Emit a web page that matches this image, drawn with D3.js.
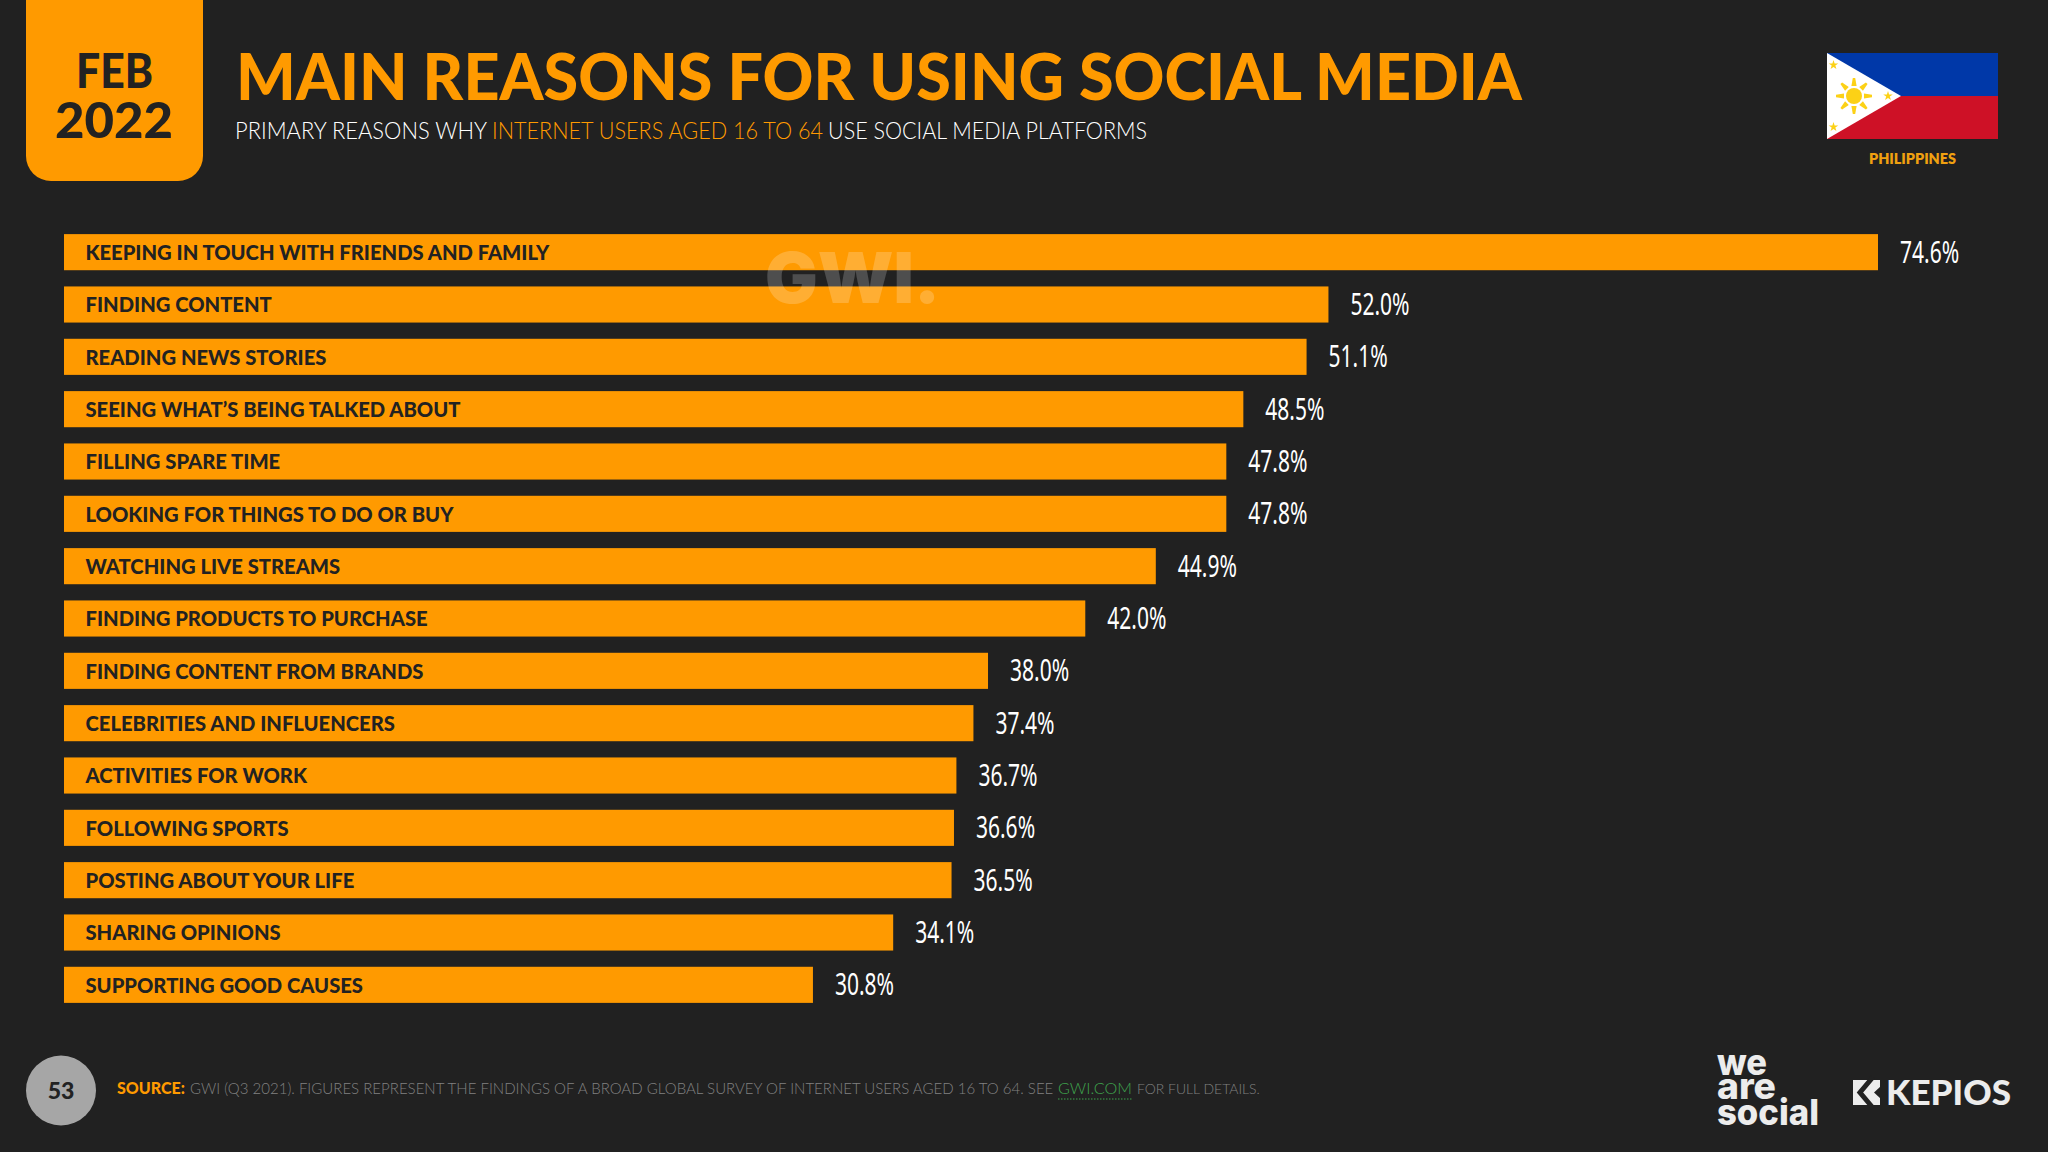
<!DOCTYPE html>
<html>
<head>
<meta charset="utf-8">
<script src="https://cdn.jsdelivr.net/npm/d3@7"></script>
<style>
  html, body { margin: 0; padding: 0; background: #212121; }
  svg { display: block; }
</style>
</head>
<body>
<div id="box"></div>
<script>
const categories = [
  "KEEPING IN TOUCH WITH FRIENDS AND FAMILY", "FINDING CONTENT", "READING NEWS STORIES",
  "SEEING WHAT\u2019S BEING TALKED ABOUT", "FILLING SPARE TIME", "LOOKING FOR THINGS TO DO OR BUY",
  "WATCHING LIVE STREAMS", "FINDING PRODUCTS TO PURCHASE", "FINDING CONTENT FROM BRANDS",
  "CELEBRITIES AND INFLUENCERS", "ACTIVITIES FOR WORK", "FOLLOWING SPORTS",
  "POSTING ABOUT YOUR LIFE", "SHARING OPINIONS", "SUPPORTING GOOD CAUSES"
];
const values = [74.6, 52.0, 51.1, 48.5, 47.8, 47.8, 44.9, 42.0, 38.0, 37.4, 36.7, 36.6, 36.5, 34.1, 30.8];

const W = 2048, H = 1152;
const orange = "#ff9a00", bg = "#212121", dark = "#222222";
const headFont = "Lato, 'Noto Sans', sans-serif";

const svg = d3.select("#box").append("svg").attr("width", W).attr("height", H);
svg.append("rect").attr("width", W).attr("height", H).attr("fill", bg);

// puts a text down and squeezes it to the width measured on the reference
function txt(parent, s, x, y, size, weight, fill, width, family) {
  const t = parent.append("text").attr("x", x).attr("y", y)
    .attr("font-family", family || headFont).attr("font-size", size)
    .attr("font-weight", weight).attr("fill", fill).text(s);
  if (width) t.attr("textLength", width).attr("lengthAdjust", "spacingAndGlyphs");
  return t;
}

// same, but reaches the width through the font size
function fitted(parent, s, x, y, size, weight, fill, width) {
  const t = txt(parent, s, x, y, size, weight, fill);
  t.attr("font-size", size * width / t.node().getComputedTextLength());
  return t;
}

// date badge
svg.append("path").attr("fill", orange)
  .attr("d", "M26,0H203V156a25,25 0 0 1 -25,25H51a25,25 0 0 1 -25,-25Z");
txt(svg, "FEB", 76, 88, 48, 900, dark, 77);
txt(svg, "2022", 55, 138, 50, 900, dark, 118);

// titles
txt(svg, "MAIN REASONS FOR USING SOCIAL MEDIA", 236, 100, 65, 900, orange, 1286);
txt(svg, "PRIMARY REASONS WHY", 235, 139, 23.5, 300, "#ffffff", 252);
txt(svg, "INTERNET USERS AGED 16 TO 64", 492, 139, 23.5, 300, orange, 331);
txt(svg, "USE SOCIAL MEDIA PLATFORMS", 828, 139, 23.5, 300, "#ffffff", 319);

// bars
const x = d3.scaleLinear().domain([0, 74.6]).range([64, 1878]);
const y = d3.scaleBand().domain(categories).range([226, 1011]).paddingInner(0.31).paddingOuter(0.155);

const rows = svg.append("g").selectAll("g").data(categories).join("g")
  .attr("transform", d => `translate(0,${y(d)})`);
rows.append("rect")
  .attr("x", x(0)).attr("y", 0)
  .attr("width", (d, i) => x(values[i]) - x(0))
  .attr("height", y.bandwidth())
  .attr("fill", orange);
rows.append("text")
  .attr("x", x(0) + 21.5).attr("y", y.bandwidth() / 2 + 8)
  .attr("font-family", headFont).attr("font-size", 20.2).attr("font-weight", 900)
  .attr("fill", dark).text(d => d);
// no narrow face installed, so the value labels get condensed by hand
rows.append("text")
  .attr("x", (d, i) => x(values[i]) + 22).attr("y", y.bandwidth() / 2 + 10.5)
  .attr("font-family", "'Noto Sans', sans-serif").attr("font-size", 30)
  .attr("fill", "#ffffff").text((d, i) => values[i].toFixed(1) + "%")
  .each(function () {
    d3.select(this).attr("textLength", this.getComputedTextLength() * 0.7)
      .attr("lengthAdjust", "spacingAndGlyphs");
  });

// watermark sits over the bars
txt(svg, "GWI.", 765, 303, 70, 900, "#ffffff", 175, "Inter, Lato, sans-serif").attr("opacity", 0.2);

// flag
const flag = svg.append("g");
flag.append("rect").attr("x", 1827).attr("y", 53).attr("width", 171).attr("height", 43).attr("fill", "#0038a8");
flag.append("rect").attr("x", 1827).attr("y", 96).attr("width", 171).attr("height", 43).attr("fill", "#ce1126");
flag.append("path").attr("d", "M1827,53L1901,96L1827,139Z").attr("fill", "#ffffff");
const sun = flag.append("g").attr("transform", "translate(1854,96)").attr("fill", "#fcd116");
sun.append("circle").attr("r", 8);
d3.range(8).forEach(i => {
  sun.append("path").attr("d", "M-2.6,-10L-1.2,-18H1.2L2.6,-10Z").attr("transform", `rotate(${i * 45})`);
});
[[1833.5, 65], [1888, 96], [1833.5, 127]].forEach(p => {
  flag.append("path").attr("fill", "#fcd116")
    .attr("transform", `translate(${p[0]},${p[1]})`)
    .attr("d", d3.symbol(d3.symbolStar, 28)());
});
txt(svg, "PHILIPPINES", 1869, 164, 15.5, 800, "#f0a010", 87);

// footer
svg.append("circle").attr("cx", 61).attr("cy", 1090.5).attr("r", 35).attr("fill", "#a6a6a6");
txt(svg, "53", 61, 1099, 23, 900, dark).attr("text-anchor", "middle");
fitted(svg, "SOURCE:", 117, 1094, 16, 900, orange, 68);
fitted(svg, "GWI (Q3 2021). FIGURES REPRESENT THE FINDINGS OF A BROAD GLOBAL SURVEY OF INTERNET USERS AGED 16 TO 64. SEE", 190, 1094, 16, 300, "#808080", 864);
fitted(svg, "GWI.COM", 1058, 1094, 16, 300, "#3fa34d", 74);
svg.append("line").attr("x1", 1058).attr("x2", 1132).attr("y1", 1099).attr("y2", 1099)
  .attr("stroke", "#3fa34d").attr("stroke-width", 1).attr("stroke-dasharray", "1.5 1.5");
fitted(svg, "FOR FULL DETAILS.", 1137, 1094, 16, 300, "#808080", 123);

// logos
const logoFont = "Inter, Lato, sans-serif";
txt(svg, "we", 1717, 1075, 36, 800, "#ececec", 50, logoFont);
txt(svg, "are", 1717, 1099, 36, 800, "#ececec", 59, logoFont);
txt(svg, "social", 1717, 1125, 36, 800, "#ececec", 102, logoFont);
txt(svg, "KEPIOS", 1886, 1105, 35, 900, "#ececec", 125);
svg.append("rect").attr("x", 1853).attr("y", 1080).attr("width", 27).attr("height", 25).attr("fill", "#ececec");
svg.append("path").attr("fill", "none").attr("stroke", bg).attr("stroke-width", 5)
  .attr("d", "M1873,1077L1860,1092.5L1873,1108");
svg.append("path").attr("fill", bg).attr("d", "M1881,1086L1874,1092.5L1881,1099Z");
</script>
</body>
</html>
